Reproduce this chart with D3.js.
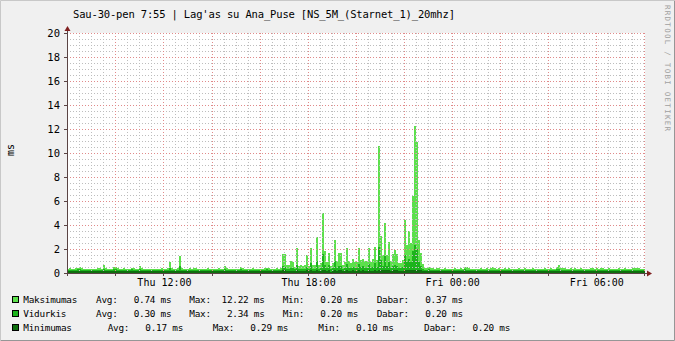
<!DOCTYPE html>
<html>
<head>
<meta charset="utf-8">
<script src="https://cdn.jsdelivr.net/npm/d3@7"></script>
<style>
body { margin: 0; background: #f0f0f0; }
svg { display: block; }
text { font-family: "DejaVu Sans Mono", monospace; fill: #000; }
</style>
</head>
<body>
<svg width="675" height="341"></svg>
<script>
// 5 minute samples, Thu 08:00 -> Fri 08:00 (one row = 2 hours)
var maxVals = [
  0.35,0.38,0.33,0.36,0.40,0.45,0.46,0.42,0.36,0.34,0.35,0.33,0.34,0.36,0.34,0.40,0.38,0.35,0.70,0.38,0.33,0.35,0.36,0.47,
  0.53,0.40,0.36,0.34,0.38,0.35,0.33,0.36,0.45,0.40,0.35,0.34,0.60,0.42,0.36,0.34,0.33,0.35,0.37,0.34,0.33,0.36,0.35,0.38,
  0.36,0.34,0.38,0.95,0.40,0.36,0.35,0.38,1.45,0.40,0.35,0.36,0.34,0.38,0.36,0.42,0.40,0.35,0.34,0.36,0.33,0.35,0.40,0.36,
  0.35,0.34,0.36,0.38,0.35,0.33,0.60,0.40,0.36,0.34,0.35,0.36,0.33,0.35,0.48,0.40,0.36,0.34,0.35,0.33,0.42,0.36,0.35,0.34,
  0.36,0.35,0.38,0.45,0.40,0.36,0.35,0.35,0.38,0.36,0.40,1.58,1.58,0.70,0.65,1.00,0.90,0.50,2.08,0.60,0.65,0.55,0.70,1.50,
  0.60,2.10,0.70,0.70,3.00,0.65,0.80,5.00,1.80,0.90,1.70,0.60,0.80,2.75,1.00,1.65,1.65,0.70,0.90,2.10,1.00,0.80,1.20,0.90,
  0.90,2.08,1.10,1.20,1.00,1.00,2.08,0.90,1.20,2.20,1.10,10.60,3.10,1.50,4.20,1.50,2.60,1.00,1.60,1.90,1.60,0.80,0.80,1.10,
  4.40,2.30,3.50,2.50,6.40,12.22,10.90,2.75,1.65,0.75,0.45,0.40,0.50,0.42,0.38,0.36,0.38,0.40,0.36,0.35,0.38,0.36,0.35,0.37,
  0.36,0.38,0.35,0.36,0.38,0.36,0.50,0.48,0.38,0.36,0.35,0.37,0.36,0.35,0.38,0.36,0.35,0.40,0.36,0.45,0.46,0.42,0.36,0.38,
  0.36,0.35,0.38,0.36,0.40,0.36,0.35,0.34,0.36,0.38,0.36,0.35,0.40,0.36,0.35,0.36,0.38,0.35,0.36,0.34,0.36,0.35,0.38,0.36,
  0.36,0.38,0.36,0.35,0.50,0.67,0.45,0.40,0.38,0.36,0.35,0.38,0.36,0.40,0.36,0.35,0.38,0.36,0.35,0.37,0.36,0.40,0.38,0.36,
  0.38,0.36,0.45,0.40,0.36,0.35,0.38,0.36,0.35,0.37,0.36,0.38,0.35,0.36,0.38,0.36,0.35,0.36,0.38,0.42,0.45,0.40,0.36,0.37,
  0.37
];
var avgVals = [
  0.26,0.27,0.25,0.26,0.28,0.30,0.30,0.28,0.26,0.25,0.26,0.25,0.25,0.26,0.25,0.28,0.27,0.26,0.35,0.27,0.25,0.26,0.26,0.30,
  0.32,0.28,0.26,0.25,0.27,0.26,0.25,0.26,0.30,0.28,0.26,0.25,0.34,0.28,0.26,0.25,0.25,0.26,0.27,0.25,0.25,0.26,0.26,0.27,
  0.26,0.25,0.27,0.40,0.28,0.26,0.26,0.27,0.60,0.28,0.26,0.26,0.25,0.27,0.26,0.29,0.28,0.26,0.25,0.26,0.25,0.26,0.28,0.26,
  0.26,0.25,0.26,0.27,0.26,0.25,0.34,0.28,0.26,0.25,0.26,0.26,0.25,0.26,0.30,0.28,0.26,0.25,0.26,0.25,0.28,0.26,0.26,0.25,
  0.26,0.26,0.27,0.30,0.28,0.26,0.26,0.26,0.27,0.26,0.28,0.60,0.50,0.35,0.33,0.45,0.40,0.30,0.70,0.32,0.34,0.30,0.36,0.50,
  0.32,0.80,0.36,0.36,1.00,0.34,0.40,1.60,0.70,0.45,0.65,0.32,0.40,1.00,0.45,0.60,0.60,0.36,0.45,0.75,0.45,0.40,0.50,0.42,
  0.42,0.75,0.50,0.55,0.45,0.45,0.75,0.42,0.50,0.80,0.50,2.20,1.10,0.60,1.40,0.60,0.90,0.45,0.60,0.70,0.60,0.40,0.40,0.50,
  1.50,0.90,1.20,0.90,1.80,2.34,2.00,0.95,0.60,0.35,0.28,0.27,0.30,0.28,0.26,0.25,0.26,0.27,0.25,0.25,0.26,0.25,0.25,0.26,
  0.25,0.26,0.25,0.25,0.26,0.25,0.30,0.29,0.26,0.25,0.25,0.26,0.25,0.25,0.26,0.25,0.25,0.27,0.25,0.28,0.28,0.27,0.25,0.26,
  0.25,0.25,0.26,0.25,0.27,0.25,0.25,0.24,0.25,0.26,0.25,0.25,0.27,0.25,0.25,0.25,0.26,0.25,0.25,0.24,0.25,0.25,0.26,0.25,
  0.25,0.26,0.25,0.25,0.30,0.35,0.28,0.27,0.26,0.25,0.25,0.26,0.25,0.27,0.25,0.25,0.26,0.25,0.25,0.26,0.25,0.27,0.26,0.25,
  0.26,0.25,0.28,0.27,0.25,0.25,0.26,0.25,0.25,0.26,0.25,0.26,0.25,0.25,0.26,0.25,0.25,0.25,0.26,0.27,0.28,0.26,0.25,0.25,
  0.20
];
var minVals = [
  0.17,0.18,0.17,0.17,0.18,0.18,0.19,0.18,0.17,0.17,0.18,0.17,0.17,0.18,0.17,0.18,0.18,0.17,0.19,0.18,0.17,0.17,0.18,0.18,
  0.18,0.17,0.17,0.16,0.17,0.17,0.16,0.17,0.18,0.17,0.17,0.16,0.18,0.17,0.17,0.16,0.16,0.17,0.17,0.16,0.16,0.17,0.17,0.17,
  0.17,0.16,0.17,0.19,0.17,0.17,0.16,0.17,0.20,0.17,0.17,0.17,0.16,0.17,0.17,0.18,0.17,0.17,0.16,0.17,0.16,0.17,0.18,0.17,
  0.17,0.16,0.17,0.17,0.17,0.16,0.19,0.17,0.17,0.16,0.17,0.17,0.16,0.17,0.18,0.17,0.17,0.16,0.17,0.16,0.18,0.17,0.17,0.16,
  0.17,0.17,0.17,0.18,0.17,0.17,0.16,0.17,0.17,0.17,0.18,0.22,0.21,0.19,0.18,0.20,0.19,0.18,0.22,0.18,0.19,0.18,0.19,0.21,
  0.18,0.23,0.19,0.19,0.24,0.18,0.20,0.27,0.22,0.19,0.22,0.10,0.19,0.24,0.20,0.22,0.21,0.18,0.19,0.23,0.20,0.19,0.21,0.20,
  0.19,0.23,0.20,0.21,0.19,0.20,0.23,0.19,0.20,0.24,0.20,0.29,0.25,0.21,0.26,0.21,0.24,0.19,0.21,0.22,0.21,0.19,0.19,0.20,
  0.25,0.22,0.24,0.22,0.27,0.29,0.28,0.23,0.21,0.18,0.17,0.17,0.18,0.17,0.17,0.16,0.17,0.17,0.16,0.16,0.17,0.16,0.17,0.17,
  0.16,0.17,0.16,0.16,0.17,0.16,0.18,0.18,0.17,0.16,0.16,0.17,0.16,0.16,0.17,0.16,0.16,0.17,0.16,0.18,0.18,0.17,0.16,0.17,
  0.16,0.16,0.17,0.16,0.17,0.16,0.16,0.15,0.16,0.17,0.16,0.16,0.17,0.16,0.16,0.16,0.17,0.16,0.16,0.15,0.16,0.16,0.17,0.16,
  0.16,0.17,0.16,0.16,0.18,0.19,0.17,0.17,0.16,0.16,0.16,0.17,0.16,0.17,0.16,0.16,0.17,0.16,0.16,0.17,0.16,0.17,0.17,0.16,
  0.17,0.16,0.18,0.17,0.16,0.16,0.17,0.16,0.16,0.17,0.16,0.17,0.16,0.16,0.17,0.16,0.16,0.16,0.17,0.17,0.18,0.17,0.16,0.17,
  0.20
];

var seriesNames = ["Maksimumas", "Vidurkis", "Minimumas"];
var seriesAvg = ["0.74", "0.30", "0.17"];
var seriesMax = ["12.22", "2.34", "0.29"];
var seriesMin = ["0.20", "0.20", "0.10"];
var seriesNow = ["0.37", "0.20", "0.20"];
var yTicks = [0, 2, 4, 6, 8, 10, 12, 14, 16, 18, 20];

var title = "Sau-30-pen 7:55 | Lag'as su Ana_Puse [NS_5M_(Starnet_1)_20mhz]";
var colors = ["#5ce04c", "#1cb41c", "#0e6e0e"];

var svg = d3.select("svg"),
    W = +svg.attr("width"),
    H = +svg.attr("height");

// plot box (avoid "top", it is window.top)
var pL = 67, pR = 645, pT = 33, pB = 273;

var x = d3.scaleTime()
    .domain([new Date(2015, 0, 29, 7, 59), new Date(2015, 0, 30, 8, 3)])
    .range([pL, pR]);
var y = d3.scaleLinear().domain([0, 20]).range([pB, pT]);

// background + shaded frame
svg.append("rect").attr("width", W).attr("height", H).attr("fill", "#f0f0f0");
svg.append("path").attr("d", "M0.5," + (H - 1) + "V0.5H" + (W - 1))
    .attr("stroke", "#c8c8c8").attr("fill", "none");
svg.append("path").attr("d", "M" + (W - 0.5) + ",0.5V" + (H - 0.5) + "H0.5")
    .attr("stroke", "#969696").attr("fill", "none");
svg.append("rect").attr("x", pL).attr("y", pT)
    .attr("width", pR - pL).attr("height", pB - pT).attr("fill", "#fff");

svg.append("clipPath").attr("id", "plot")
  .append("rect").attr("x", pL).attr("y", pT)
    .attr("width", pR - pL).attr("height", pB - pT);

var start = new Date(2015, 0, 29, 8, 0);
var times = maxVals.map(function(d, i) { return d3.timeMinute.offset(start, 5 * i); });

var g = svg.append("g").attr("clip-path", "url(#plot)").attr("shape-rendering", "crispEdges");
[maxVals, avgVals, minVals].forEach(function(vals, k) {
  g.append("g").selectAll("rect")
    .data(vals)
    .enter().append("rect")
      .attr("x", function(d, i) { return Math.round(x(times[i])); })
      .attr("width", function(d, i) {
        return Math.round(x(d3.timeMinute.offset(times[i], 5))) - Math.round(x(times[i]));
      })
      .attr("y", function(d) { return Math.round(y(d)); })
      .attr("height", function(d) { return pB - Math.round(y(d)); })
      .attr("fill", colors[k]);
});

// grid (drawn over the data, like rrdtool)
var grid = svg.append("g").attr("shape-rendering", "crispEdges").attr("stroke-dasharray", "1,2");
var majorT = x.ticks(d3.timeHour.every(2));
var minorT = x.ticks(d3.timeMinute.every(30)).filter(function(t) {
  return !(t.getMinutes() === 0 && t.getHours() % 2 === 0);
});
var hMinor = d3.range(0.5, 20.01, 0.5).filter(function(v) { return v % 2 !== 0; });

grid.selectAll("line.vmin").data(minorT).enter().append("line")
    .attr("x1", function(d) { return Math.round(x(d)) + 0.5; })
    .attr("x2", function(d) { return Math.round(x(d)) + 0.5; })
    .attr("y1", pT).attr("y2", pB)
    .attr("stroke", "#bdbdbd");
grid.selectAll("line.hmin").data(hMinor).enter().append("line")
    .attr("x1", pL).attr("x2", pR)
    .attr("y1", function(d) { return Math.round(y(d)) + 0.5; })
    .attr("y2", function(d) { return Math.round(y(d)) + 0.5; })
    .attr("stroke", "#bdbdbd");
grid.selectAll("line.vmaj").data(majorT).enter().append("line")
    .attr("x1", function(d) { return Math.round(x(d)) + 0.5; })
    .attr("x2", function(d) { return Math.round(x(d)) + 0.5; })
    .attr("y1", pT).attr("y2", pB)
    .attr("stroke", "#e08a8a");
grid.selectAll("line.hmaj").data(yTicks.slice(1)).enter().append("line")
    .attr("x1", pL).attr("x2", pR)
    .attr("y1", function(d) { return Math.round(y(d)) + 0.5; })
    .attr("y2", function(d) { return Math.round(y(d)) + 0.5; })
    .attr("stroke", "#e08a8a");

// axes
var axisCol = "#5a4444", arrowCol = "#7f1f1f";
var ax = svg.append("g").attr("shape-rendering", "crispEdges").attr("stroke", axisCol);
ax.append("line").attr("x1", pL - 2).attr("x2", pR + 2).attr("y1", pB + 0.5).attr("y2", pB + 0.5);
ax.append("line").attr("x1", pL + 0.5).attr("x2", pL + 0.5).attr("y1", pB + 3).attr("y2", pT - 3);
ax.selectAll("line.xt").data(majorT).enter().append("line")
    .attr("x1", function(d) { return Math.round(x(d)) + 0.5; })
    .attr("x2", function(d) { return Math.round(x(d)) + 0.5; })
    .attr("y1", pB).attr("y2", pB + 3);
ax.selectAll("line.yt").data(yTicks).enter().append("line")
    .attr("x1", pL - 3).attr("x2", pL)
    .attr("y1", function(d) { return Math.round(y(d)) + 0.5; })
    .attr("y2", function(d) { return Math.round(y(d)) + 0.5; });
svg.append("path").attr("fill", arrowCol)
    .attr("d", "M" + (pR + 2) + "," + (pB - 2.5) + "L" + (pR + 7) + "," + (pB + 0.5) + "L" + (pR + 2) + "," + (pB + 3.5) + "Z");
svg.append("path").attr("fill", arrowCol)
    .attr("d", "M" + (pL - 2.5) + "," + (pT - 2) + "L" + (pL + 0.5) + "," + (pT - 7) + "L" + (pL + 3.5) + "," + (pT - 2) + "Z");

// axis labels
svg.selectAll("text.ylab").data(yTicks).enter().append("text")
    .attr("x", 60).attr("y", function(d) { return y(d) + 4; })
    .attr("text-anchor", "end").attr("font-size", "10.5px")
    .text(function(d) { return d; });
var fmt = d3.timeFormat("%a %H:%M");
svg.selectAll("text.xlab").data(x.ticks(d3.timeHour.every(6))).enter().append("text")
    .attr("x", function(d) { return x(d) + 1; }).attr("y", 285.5)
    .attr("text-anchor", "middle").attr("font-size", "10px")
    .text(fmt);
svg.append("text").attr("transform", "translate(14,150) rotate(-90)")
    .attr("text-anchor", "middle").attr("font-size", "10px").text("ms");

// title and watermark
svg.append("text").attr("x", 73).attr("y", 18).attr("font-size", "10.5px")
    .attr("textLength", 382).text(title);
svg.append("text").attr("transform", "translate(665,5) rotate(90)")
    .attr("font-size", "7.5px").style("fill", "#a0a0a0")
    .attr("textLength", 126).attr("lengthAdjust", "spacing")
    .text("RRDTOOL / TOBI OETIKER");

// legend
var legX = [[96, 189.3, 282.7, 376.7], [96, 189.3, 282.7, 376.7], [107.7, 212.7, 318.3, 424]];
function pad(s) { return s.padStart(7, " "); }
var lg = svg.append("g").attr("font-size", "9.4px");
seriesNames.forEach(function(name, k) {
  var by = 302.8 + 14 * k;
  lg.append("rect").attr("x", 12.5).attr("y", by - 6.3).attr("width", 6).attr("height", 6)
    .attr("fill", colors[k]).attr("stroke", "#000").attr("shape-rendering", "crispEdges");
  lg.append("text").attr("x", 23.3).attr("y", by).attr("textLength", name.length * 5.4).text(name);
  var parts = [
    "Avg:" + pad(seriesAvg[k]) + " ms",
    "Max:" + pad(seriesMax[k]) + " ms",
    "Min:" + pad(seriesMin[k]) + " ms",
    "Dabar:" + pad(seriesNow[k]) + " ms"
  ];
  parts.forEach(function(p, j) {
    lg.append("text").attr("x", legX[k][j]).attr("y", by)
      .attr("textLength", p.length * 5.4)
      .style("white-space", "pre").text(p);
  });
});
</script>
</body>
</html>
